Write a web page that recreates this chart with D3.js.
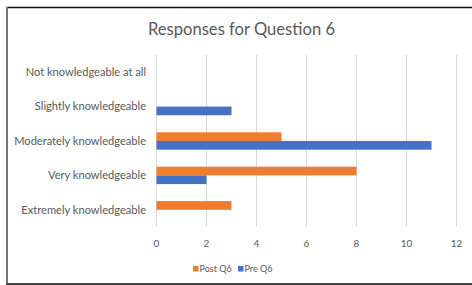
<!DOCTYPE html>
<html>
<head>
<meta charset="utf-8">
<script src="https://cdn.jsdelivr.net/npm/d3@7"></script>
<style>
  body { margin: 0; background: #fff; }
  text { font-family: Lato, "Open Sans", sans-serif; fill: #595959; }
</style>
</head>
<body>
<div id="chart"></div>
<script>
// Data
const categories = ["Not knowledgeable at all", "Slightly knowledgeable", "Moderately knowledgeable", "Very knowledgeable", "Extremely knowledgeable"];
const postQ6 = [0, 0, 5, 8, 3];
const preQ6 = [0, 3, 11, 2, 0];
const seriesNames = ["Post Q6", "Pre Q6"];
const seriesColors = ["#ED7D31", "#4472C4"];
const xTicks = [0, 2, 4, 6, 8, 10, 12];

const width = 472, height = 285;
const svg = d3.select("#chart")
  .append("svg")
  .attr("width", width)
  .attr("height", height);

// chart frame (top + left + bottom edges like the screenshot)
svg.append("line").attr("x1", 6).attr("x2", width).attr("y1", 7.5).attr("y2", 7.5)
  .attr("stroke", "#111").attr("stroke-width", 1.5);
svg.append("line").attr("x1", 7).attr("x2", 7).attr("y1", 7).attr("y2", height)
  .attr("stroke", "#777").attr("stroke-width", 2);
svg.append("line").attr("x1", 6).attr("x2", width).attr("y1", 284).attr("y2", 284)
  .attr("stroke", "#444").attr("stroke-width", 2);

// title
svg.append("text")
  .attr("x", 241.5)
  .attr("y", 35)
  .attr("text-anchor", "middle")
  .style("font-size", "16.6px")
  .text("Responses for Question 6");

const x = d3.scaleLinear().domain([0, 12]).range([156, 456]);
const y = d3.scaleBand().domain(categories).range([55, 227]);
const inner = d3.scaleBand().domain(seriesNames).range([0, y.bandwidth()]).paddingOuter(0.98);

// gridlines
svg.append("g")
  .selectAll("line")
  .data(xTicks)
  .join("line")
  .attr("x1", d => x(d) + 0.5)
  .attr("x2", d => x(d) + 0.5)
  .attr("y1", 55)
  .attr("y2", 227)
  .attr("stroke", "#D9D9D9")
  .attr("stroke-width", 1);

// x tick labels
svg.append("g")
  .selectAll("text")
  .data(xTicks)
  .join("text")
  .attr("x", d => x(d) + 0.5)
  .attr("y", 243)
  .attr("dy", "0.35em")
  .attr("text-anchor", "middle")
  .style("font-size", "10px")
  .text(d => d);

// category labels
svg.append("g")
  .selectAll("text")
  .data(categories)
  .join("text")
  .attr("x", 146)
  .attr("y", d => y(d) + y.bandwidth() / 2)
  .attr("dy", "0.35em")
  .attr("text-anchor", "end")
  .style("font-size", "11.1px")
  .text(d => d);

// bars
const series = [postQ6, preQ6];
series.forEach((vals, si) => {
  svg.append("g")
    .selectAll("rect")
    .data(vals.map((v, i) => ({ cat: categories[i], v })))
    .join("rect")
    .attr("x", x(0) + 0.5)
    .attr("y", d => y(d.cat) + inner(seriesNames[si]))
    .attr("width", d => x(d.v) - x(0))
    .attr("height", inner.bandwidth())
    .attr("fill", seriesColors[si]);
});

// legend
const legendX = [193, 238];
const legend = svg.append("g")
  .selectAll("g")
  .data(seriesNames)
  .join("g")
  .attr("transform", (d, i) => `translate(${legendX[i]},269)`);
legend.append("rect")
  .attr("x", 0).attr("y", -3).attr("width", 5.5).attr("height", 5.5)
  .attr("fill", (d, i) => seriesColors[i]);
legend.append("text")
  .attr("x", 6.5)
  .attr("dy", "0.3em")
  .style("font-size", "9px")
  .text(d => d);
</script>
</body>
</html>
